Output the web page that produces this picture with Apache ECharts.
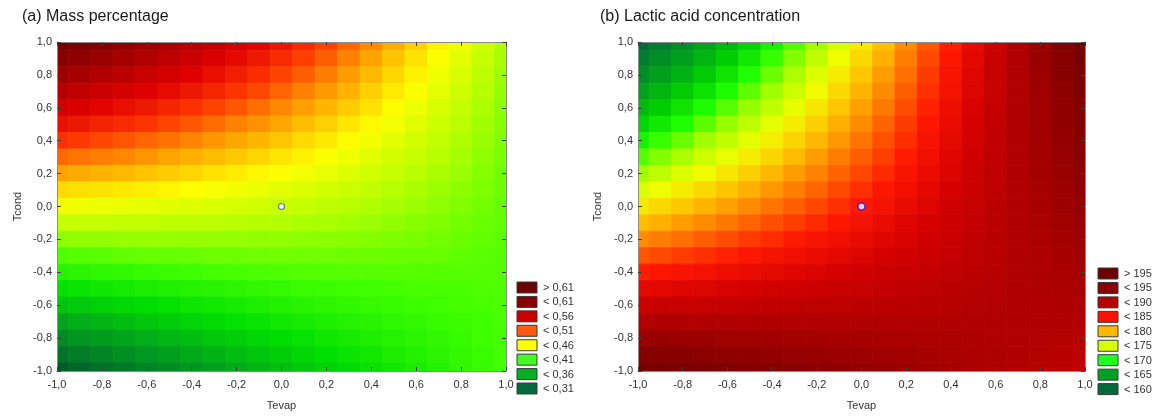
<!DOCTYPE html>
<html>
<head>
<meta charset="utf-8">
<title>Mass percentage / Lactic acid concentration</title>
<script src="https://cdn.jsdelivr.net/npm/echarts@6/dist/echarts.min.js"></script>
<style>
  html, body { margin: 0; padding: 0; background: #fff; }
  #chart { width: 1162px; height: 416px; }
</style>
</head>
<body>
<div id="chart"></div>
<script>
// coded factor levels of the grid nodes
var tevapLevels = [-1.0, -0.9, -0.8, -0.7, -0.6, -0.5, -0.4, -0.3, -0.2, -0.1, 0.0,
                   0.1, 0.2, 0.3, 0.4, 0.5, 0.6, 0.7, 0.8, 0.9, 1.0];
var tcondLevels = [1.0, 0.9, 0.8, 0.7, 0.6, 0.5, 0.4, 0.3, 0.2, 0.1, 0.0,
                   -0.1, -0.2, -0.3, -0.4, -0.5, -0.6, -0.7, -0.8, -0.9, -1.0];

// (a) mass percentage, one row per Tcond level (top row = 1,0)
var massRows = [
  [0.640,0.631,0.623,0.614,0.605,0.596,0.586,0.577,0.567,0.557,0.548,0.537,0.527,0.517,0.506,0.496,0.485,0.474,0.463,0.451,0.440],
  [0.622,0.614,0.606,0.598,0.590,0.582,0.573,0.564,0.555,0.546,0.537,0.528,0.519,0.509,0.499,0.489,0.479,0.469,0.459,0.448,0.438],
  [0.604,0.597,0.590,0.583,0.575,0.568,0.560,0.552,0.544,0.536,0.527,0.519,0.510,0.501,0.492,0.483,0.474,0.464,0.455,0.445,0.435],
  [0.586,0.580,0.574,0.567,0.561,0.554,0.547,0.540,0.532,0.525,0.517,0.509,0.502,0.494,0.485,0.477,0.468,0.460,0.451,0.442,0.433],
  [0.569,0.563,0.558,0.552,0.546,0.540,0.534,0.527,0.521,0.514,0.507,0.500,0.493,0.486,0.479,0.471,0.463,0.455,0.447,0.439,0.431],
  [0.551,0.547,0.542,0.537,0.532,0.526,0.521,0.515,0.509,0.504,0.498,0.491,0.485,0.478,0.472,0.465,0.458,0.451,0.444,0.436,0.429],
  [0.534,0.530,0.526,0.522,0.517,0.513,0.508,0.503,0.498,0.493,0.488,0.482,0.477,0.471,0.465,0.459,0.453,0.447,0.440,0.434,0.427],
  [0.516,0.513,0.510,0.507,0.503,0.499,0.495,0.491,0.487,0.483,0.478,0.474,0.469,0.464,0.459,0.453,0.448,0.443,0.437,0.431,0.425],
  [0.499,0.497,0.494,0.492,0.489,0.486,0.483,0.479,0.476,0.472,0.469,0.465,0.461,0.457,0.452,0.448,0.443,0.438,0.434,0.428,0.423],
  [0.482,0.480,0.479,0.477,0.475,0.473,0.470,0.468,0.465,0.462,0.459,0.456,0.453,0.450,0.446,0.442,0.438,0.434,0.430,0.426,0.422],
  [0.465,0.464,0.463,0.462,0.461,0.459,0.458,0.456,0.454,0.452,0.450,0.448,0.445,0.443,0.440,0.437,0.434,0.431,0.427,0.424,0.420],
  [0.448,0.448,0.448,0.447,0.447,0.446,0.445,0.445,0.443,0.442,0.441,0.439,0.438,0.436,0.434,0.432,0.429,0.427,0.424,0.421,0.419],
  [0.431,0.432,0.432,0.433,0.433,0.433,0.433,0.433,0.433,0.432,0.432,0.431,0.430,0.429,0.428,0.426,0.425,0.423,0.421,0.419,0.417],
  [0.414,0.416,0.417,0.419,0.420,0.420,0.421,0.422,0.422,0.423,0.423,0.423,0.423,0.422,0.422,0.421,0.420,0.420,0.418,0.417,0.416],
  [0.398,0.400,0.402,0.404,0.406,0.408,0.409,0.411,0.412,0.413,0.414,0.415,0.415,0.416,0.416,0.416,0.416,0.416,0.416,0.415,0.415],
  [0.381,0.384,0.387,0.390,0.393,0.395,0.397,0.399,0.401,0.403,0.405,0.407,0.408,0.409,0.410,0.411,0.412,0.413,0.413,0.414,0.414],
  [0.365,0.369,0.372,0.376,0.379,0.382,0.386,0.388,0.391,0.394,0.396,0.399,0.401,0.403,0.405,0.406,0.408,0.409,0.411,0.412,0.413],
  [0.348,0.353,0.357,0.362,0.366,0.370,0.374,0.378,0.381,0.384,0.388,0.391,0.394,0.397,0.399,0.402,0.404,0.406,0.408,0.410,0.412],
  [0.332,0.338,0.343,0.348,0.353,0.358,0.362,0.367,0.371,0.375,0.379,0.383,0.387,0.390,0.394,0.397,0.400,0.403,0.406,0.409,0.411],
  [0.316,0.322,0.328,0.334,0.340,0.345,0.351,0.356,0.361,0.366,0.371,0.375,0.380,0.384,0.388,0.393,0.396,0.400,0.404,0.407,0.411],
  [0.300,0.307,0.314,0.320,0.327,0.333,0.339,0.345,0.351,0.357,0.362,0.368,0.373,0.378,0.383,0.388,0.393,0.397,0.402,0.406,0.410]
];

// (b) lactic acid concentration, same layout
var lacticRows = [
  [157.5,159.5,161.4,163.4,165.3,167.3,169.2,171.2,173.1,175.1,177.0,179.0,180.9,182.9,184.8,186.8,188.7,190.7,192.6,194.6,196.5],
  [159.5,161.3,163.1,165.0,166.8,168.6,170.5,172.3,174.1,176.0,177.8,179.6,181.5,183.3,185.1,187.0,188.8,190.6,192.5,194.3,196.2],
  [161.4,163.1,164.8,166.6,168.3,170.0,171.7,173.4,175.2,176.9,178.6,180.3,182.0,183.8,185.5,187.2,188.9,190.6,192.4,194.1,195.8],
  [163.4,165.0,166.6,168.2,169.8,171.4,173.0,174.6,176.2,177.8,179.4,181.0,182.6,184.2,185.8,187.4,189.0,190.6,192.2,193.8,195.5],
  [165.3,166.8,168.3,169.8,171.3,172.8,174.2,175.7,177.2,178.7,180.2,181.7,183.2,184.7,186.2,187.7,189.1,190.6,192.1,193.6,195.1],
  [167.3,168.6,170.0,171.4,172.8,174.1,175.5,176.9,178.3,179.6,181.0,182.4,183.8,185.1,186.5,187.9,189.3,190.6,192.0,193.4,194.8],
  [169.2,170.5,171.7,173.0,174.2,175.5,176.8,178.0,179.3,180.5,181.8,183.1,184.3,185.6,186.8,188.1,189.4,190.6,191.9,193.1,194.4],
  [171.2,172.3,173.4,174.6,175.7,176.9,178.0,179.2,180.3,181.5,182.6,183.7,184.9,186.0,187.2,188.3,189.5,190.6,191.8,192.9,194.1],
  [173.1,174.1,175.2,176.2,177.2,178.3,179.3,180.3,181.3,182.4,183.4,184.4,185.5,186.5,187.5,188.6,189.6,190.6,191.6,192.7,193.7],
  [175.1,176.0,176.9,177.8,178.7,179.6,180.5,181.5,182.4,183.3,184.2,185.1,186.0,186.9,187.9,188.8,189.7,190.6,191.5,192.4,193.4],
  [177.0,177.8,178.6,179.4,180.2,181.0,181.8,182.6,183.4,184.2,185.0,185.8,186.6,187.4,188.2,189.0,189.8,190.6,191.4,192.2,193.0],
  [179.0,179.6,180.3,181.0,181.7,182.4,183.1,183.7,184.4,185.1,185.8,186.5,187.2,187.9,188.5,189.2,189.9,190.6,191.3,192.0,192.7],
  [180.9,181.5,182.0,182.6,183.2,183.8,184.3,184.9,185.5,186.0,186.6,187.2,187.7,188.3,188.9,189.5,190.0,190.6,191.2,191.7,192.3],
  [182.9,183.3,183.8,184.2,184.7,185.1,185.6,186.0,186.5,186.9,187.4,187.9,188.3,188.8,189.2,189.7,190.1,190.6,191.0,191.5,192.0],
  [184.8,185.1,185.5,185.8,186.2,186.5,186.8,187.2,187.5,187.9,188.2,188.5,188.9,189.2,189.6,189.9,190.2,190.6,190.9,191.3,191.6],
  [186.8,187.0,187.2,187.4,187.7,187.9,188.1,188.3,188.6,188.8,189.0,189.2,189.5,189.7,189.9,190.1,190.4,190.6,190.8,191.0,191.3],
  [188.7,188.8,188.9,189.0,189.1,189.3,189.4,189.5,189.6,189.7,189.8,189.9,190.0,190.1,190.2,190.4,190.5,190.6,190.7,190.8,190.9],
  [190.7,190.6,190.6,190.6,190.6,190.6,190.6,190.6,190.6,190.6,190.6,190.6,190.6,190.6,190.6,190.6,190.6,190.6,190.6,190.6,190.6],
  [192.6,192.5,192.4,192.2,192.1,192.0,191.9,191.8,191.6,191.5,191.4,191.3,191.2,191.0,190.9,190.8,190.7,190.6,190.4,190.3,190.2],
  [194.6,194.3,194.1,193.8,193.6,193.4,193.1,192.9,192.7,192.4,192.2,192.0,191.7,191.5,191.3,191.0,190.8,190.6,190.3,190.1,189.9],
  [196.5,196.2,195.8,195.5,195.1,194.8,194.4,194.1,193.7,193.4,193.0,192.7,192.3,192.0,191.6,191.3,190.9,190.6,190.2,189.9,189.5]
];

var centerPoint = [0, 0];

var massLegend = ['> 0,61', '< 0,61', '< 0,56', '< 0,51', '< 0,46', '< 0,41', '< 0,36', '< 0,31'];
var lacticLegend = ['> 195', '< 195', '< 190', '< 185', '< 180', '< 175', '< 170', '< 165', '< 160'];

// colours (styles)
var massLegendColors = ['#6e0000', '#8a0000', '#c80000', '#ff5a10', '#ffff00', '#40ff20', '#00b020', '#006a3a'];
var lacticLegendColors = ['#6e0000', '#8a0000', '#b40000', '#ff1000', '#ffb800', '#d8ff00', '#20ff20', '#00a020', '#006a3a'];
// ramps: evenly spaced stops, 0.29..0.65 step 0.03 and 155..200 step 3
var massRamp = ['#004d2a', '#007a28', '#00a81a', '#00e000', '#40ff00', '#b0ff00', '#ffff00',
                '#ffa000', '#ff3800', '#e00000', '#b00000', '#880000', '#640000'];
var lacticRamp = ['#005a3c', '#00703a', '#008a28', '#00a818', '#00d000', '#20ff00', '#a0ff00', '#f0ff00',
                  '#ffc000', '#ff7000', '#ff1800', '#d40000', '#ac0000', '#8a0000', '#720000', '#600000'];

var FONT = "'Liberation Sans', Arial, sans-serif";
var TXT = '#333333';

function toCells(rows) {
  var out = [];
  for (var j = 0; j < tcondLevels.length; j++) {
    for (var i = 0; i < tevapLevels.length; i++) {
      out.push([tevapLevels[i], tcondLevels[j], rows[j][i]]);
    }
  }
  return out;
}

var stepX = tevapLevels[1] - tevapLevels[0];
var stepY = tcondLevels[0] - tcondLevels[1];

function renderCell(params, api) {
  var x = api.value(0), y = api.value(1);
  var p = api.coord([x - stepX / 2, y + stepY / 2]);
  var s = api.size([stepX, stepY]);
  var c = api.visual('color');
  return {
    type: 'rect',
    shape: { x: p[0], y: p[1], width: s[0], height: s[1] },
    style: { fill: c, stroke: c, lineWidth: 0.8 }
  };
}

function fmt(v) {
  var s = (Math.round(v * 10) / 10).toFixed(1);
  if (s === '-0.0') s = '0.0';
  return s.replace('.', ',');
}

var lineCol = '#8c8c8c';
var tickCol = '#404040';

function xAxes(g) {
  return [
    { gridIndex: g, type: 'value', min: -1, max: 1, interval: 0.2, position: 'bottom', z: 10,
      name: 'Tevap', nameLocation: 'middle', nameGap: 29,
      nameTextStyle: { color: TXT, fontSize: 11, fontFamily: FONT },
      axisLine: { onZero: false, lineStyle: { color: lineCol } },
      axisTick: { inside: true, length: 4, lineStyle: { color: tickCol } },
      axisLabel: { formatter: fmt, margin: 8, color: TXT, fontSize: 11, fontFamily: FONT },
      splitLine: { show: false } },
    { gridIndex: g, type: 'value', min: -1, max: 1, interval: 0.2, position: 'top', z: 10,
      axisLine: { onZero: false, lineStyle: { color: lineCol } },
      axisTick: { inside: true, length: 4, lineStyle: { color: tickCol } },
      axisLabel: { show: false }, splitLine: { show: false } }
  ];
}

function yAxes(g, gap) {
  return [
    { gridIndex: g, type: 'value', min: -1, max: 1, interval: 0.2, position: 'left', z: 10,
      name: 'Tcond', nameLocation: 'middle', nameGap: gap, nameRotate: 90,
      nameTextStyle: { color: TXT, fontSize: 11, fontFamily: FONT },
      axisLine: { onZero: false, lineStyle: { color: lineCol } },
      axisTick: { inside: true, length: 4, lineStyle: { color: tickCol } },
      axisLabel: { formatter: fmt, margin: 5, color: TXT, fontSize: 11, fontFamily: FONT },
      splitLine: { show: false } },
    { gridIndex: g, type: 'value', min: -1, max: 1, interval: 0.2, position: 'right', z: 10,
      axisLine: { onZero: false, lineStyle: { color: lineCol } },
      axisTick: { inside: true, length: 4, lineStyle: { color: tickCol } },
      axisLabel: { show: false }, splitLine: { show: false } }
  ];
}

function legendItems(labels, colors, left, top, step) {
  var els = [];
  for (var k = 0; k < labels.length; k++) {
    var y = top + k * step;
    els.push({ type: 'rect', shape: { x: left, y: y, width: 20, height: 11 },
      style: { fill: colors[k], stroke: '#3a3a3a', lineWidth: 1 } });
    els.push({ type: 'text', x: left + 26, y: y + 6,
      style: { text: labels[k], fill: TXT, fontSize: 11, fontFamily: FONT, verticalAlign: 'middle' } });
  }
  return els;
}

var chart = echarts.init(document.getElementById('chart'), null, { renderer: 'canvas' });

chart.setOption({
  backgroundColor: '#ffffff',
  animation: false,
  title: [
    { text: '(a) Mass percentage', left: 17, top: 4,
      textStyle: { fontSize: 16, fontWeight: 'normal', color: '#1a1a1a', fontFamily: FONT } },
    { text: '(b) Lactic acid concentration', left: 595, top: 4,
      textStyle: { fontSize: 16, fontWeight: 'normal', color: '#1a1a1a', fontFamily: FONT } }
  ],
  grid: [
    { left: 57, top: 42, width: 449, height: 330 },
    { left: 638, top: 42, width: 447, height: 329 }
  ],
  xAxis: xAxes(0).concat(xAxes(1)),
  yAxis: yAxes(0, 34).concat(yAxes(1, 35)),
  visualMap: [
    { type: 'continuous', show: false, seriesIndex: 0, dimension: 2,
      min: 0.29, max: 0.65, inRange: { color: massRamp } },
    { type: 'continuous', show: false, seriesIndex: 2, dimension: 2,
      min: 155, max: 200, inRange: { color: lacticRamp } }
  ],
  series: [
    { type: 'custom', name: 'Mass percentage', xAxisIndex: 0, yAxisIndex: 0, clip: true,
      renderItem: renderCell, data: toCells(massRows), encode: { x: 0, y: 1 } },
    { type: 'scatter', xAxisIndex: 0, yAxisIndex: 0, z: 5, symbolSize: 6,
      itemStyle: { color: '#ffffff', borderColor: '#4a55c8', borderWidth: 1.2 },
      data: [centerPoint] },
    { type: 'custom', name: 'Lactic acid concentration', xAxisIndex: 2, yAxisIndex: 2, clip: true,
      renderItem: renderCell, data: toCells(lacticRows), encode: { x: 0, y: 1 } },
    { type: 'scatter', xAxisIndex: 2, yAxisIndex: 2, z: 5, symbolSize: 7,
      itemStyle: { color: '#ffffff', borderColor: '#1a1aff', borderWidth: 1.6 },
      data: [centerPoint] }
  ],
  graphic: legendItems(massLegend, massLegendColors, 517, 282, 14.43)
    .concat(legendItems(lacticLegend, lacticLegendColors, 1098, 268, 14.45))
});
</script>
</body>
</html>
